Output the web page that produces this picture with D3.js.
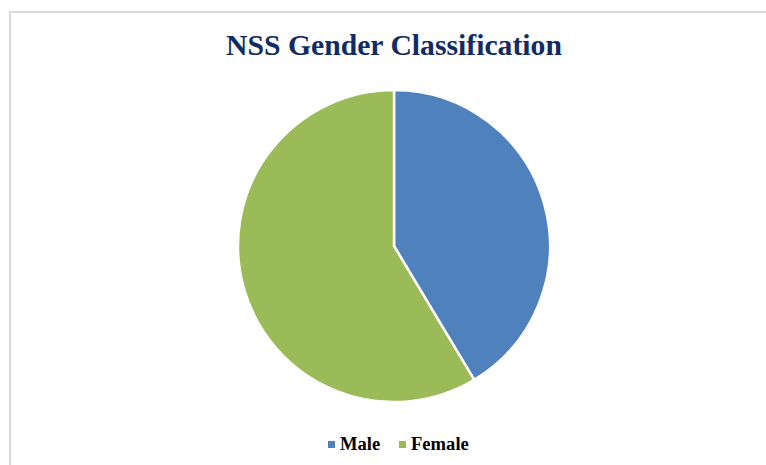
<!DOCTYPE html>
<html><head><meta charset="utf-8">
<script src="https://cdn.jsdelivr.net/npm/d3@7"></script>
<style>body{margin:0;background:#fff}svg{display:block}</style>
</head><body>
<script>
const categories = ["Male", "Female"];
const values = [41.4, 58.6];
const colors = ["#4F81BD", "#9BBB59"];
const title = "NSS Gender Classification";

const W = 766, H = 465;
const svg = d3.select("body").append("svg").attr("width", W).attr("height", H);
svg.append("rect").attr("width", W).attr("height", H).attr("fill", "#fff");
// chart border
svg.append("path").attr("d", `M10,${H+5} L10,12 L${W+5},12`)
  .attr("fill", "none").attr("stroke", "#d9d9d9").attr("stroke-width", 2);

svg.append("text").attr("x", 394).attr("y", 55).attr("text-anchor", "middle")
  .attr("font-family", "Liberation Serif, Times New Roman, serif").attr("font-weight", "bold")
  .attr("font-size", 29.7).attr("fill", "#112C64").text(title);

const cx = 394, cy = 246, r = 156;
const data = categories.map((c, i) => ({ c, v: values[i], col: colors[i] }));
const pie = d3.pie().value(d => d.v).sort(null);
const arc = d3.arc().innerRadius(0).outerRadius(r);
const g = svg.append("g").attr("transform", `translate(${cx},${cy})`);
g.selectAll("path").data(pie(data)).join("path")
  .attr("d", arc).attr("fill", d => d.data.col)
  .attr("stroke", "#fff").attr("stroke-width", 2.5).attr("stroke-linejoin", "round");

// legend
const legX = [328, 399];
const lg = svg.append("g");
data.forEach((d, i) => {
  lg.append("rect").attr("x", legX[i]).attr("y", 441).attr("width", 7).attr("height", 7).attr("fill", d.col);
  lg.append("text").attr("x", legX[i] + 12).attr("y", 450)
    .attr("font-family", "Liberation Serif, Times New Roman, serif").attr("font-weight", "bold")
    .attr("font-size", 18.6).attr("fill", "#000").text(d.c);
});
</script>
</body></html>
